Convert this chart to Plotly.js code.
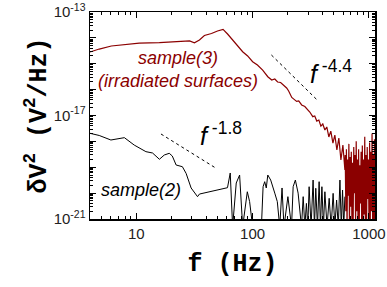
<!DOCTYPE html>
<html>
<head>
<meta charset="utf-8">
<script src="https://cdn.plot.ly/plotly-3.0.1.min.js"></script>
<style>html,body{margin:0;padding:0;background:#fff;}#chart{width:387px;height:287px;}</style>
</head>
<body>
<div id="chart"></div>
<script>
// sample(3) (irradiated surfaces) — frequency (Hz) and spectral density (V^2/Hz)
const redF = [4, 4.8, 6.1, 7.9, 10.6, 15.8, 23.5, 28.7, 31.6, 34.9, 38.5, 44.3, 49.9, 55.7, 60.9,
  67.3, 74.3, 82.1, 90.6, 100, 110, 122, 135, 146, 155, 164, 174, 185, 196, 204,
  217, 226, 239, 249, 264, 281, 292, 310, 329, 342, 356, 371, 386, 401, 418,
  434, 452, 470, 490, 509, 530, 551, 574, 597, 621,
  625, 633, 640, 648, 656, 664, 672, 680, 688, 697, 705, 714, 723, 731, 740,
  749, 758, 768, 777, 786, 796, 806, 815, 825, 835, 845, 856, 866, 877, 887,
  898, 909, 920, 931, 943, 954, 966, 977, 989, 1001, 1013, 1025, 1038, 1050, 1063,
  1076, 1089, 1102, 1115, 1125];
const redP = [2.84e-15, 3.7e-15, 4.85e-15, 5.5e-15, 6.3e-15, 6.6e-15, 7.25e-15, 7.6e-15, 6.5e-15, 8.3e-15,
  1.24e-14, 1.48e-14, 1.85e-14, 2.14e-14, 1.41e-14, 8.3e-15, 5.3e-15, 2.92e-15, 2.0e-15, 1.2e-15,
  8.9e-16, 5.7e-16, 3.15e-16, 2.35e-16, 2.57e-16, 1.97e-16, 1.88e-16, 1.51e-16, 1.16e-16, 8.85e-17,
  4.97e-17, 4.3e-17, 3.5e-17, 3.63e-17, 2.55e-17, 2.23e-17, 1.9e-17, 1.36e-17, 9.0e-18, 9.6e-18,
  6.1e-18, 6.7e-18, 3.9e-18, 4.7e-18, 2.75e-18, 3.6e-18, 1.48e-18, 2.5e-18, 8.6e-19, 1.76e-18,
  4.65e-19, 1.35e-18, 1.9e-19, 7.2e-19, 7.8e-20,
  3e-19, 2e-21, 5e-19, 5e-22, 2e-19, 8e-21, 8e-19, 5e-22, 2.5e-19, 3e-21,
  4e-19, 5e-22, 1.5e-19, 5e-22, 6e-19, 1e-20, 3e-19, 5e-22, 1e-18, 2e-21,
  2e-19, 5e-22, 5e-19, 5e-22, 1.2e-19, 4e-21, 4e-19, 5e-22, 7e-19, 5e-22,
  2e-19, 1.5e-21, 1.5e-18, 5e-22, 3e-19, 5e-22, 6e-19, 6e-21, 2e-19, 5e-22,
  9e-19, 5e-22, 4e-19, 2e-21, 2e-18, 5e-22, 3e-19, 5e-22, 1.2e-18, 5e-22];

// sample(2)
const blackF = [4, 4.8, 6.05, 7.9, 9.6, 12.1, 13.8, 15.8, 17.4, 19.2, 20.4, 22.0, 24.9, 26.8, 29.6,
  33.6, 34.9, 60.8, 64.2, 67.3, 72.3, 77.3, 82.1, 85.3, 90, 94.2, 100, 119, 123, 127,
  131, 135, 143, 155, 163, 171, 179, 186, 201, 216, 223, 233, 246, 263, 272,
  281, 290, 298, 306, 318, 331, 340, 349, 361, 373, 383, 394, 406, 418, 436,
  455, 473, 492, 509, 527, 545, 563, 578, 593, 607, 621];
const blackP = [2.05e-18, 1.69e-18, 1.13e-18, 1.39e-18, 7.2e-19, 4.0e-19, 3.55e-19, 2.03e-19, 2.97e-19, 3.46e-19,
  2.72e-19, 1.22e-19, 1.05e-19, 5.8e-20, 1.58e-20, 7.3e-21, 9.2e-21, 1.62e-20, 6.0e-20, 5e-22,
  2.46e-20, 5.0e-20, 5e-22, 1.7e-21, 1.13e-20, 4.7e-21, 5e-22, 5e-22, 1.77e-20, 2.77e-20,
  1.58e-20, 5.0e-20, 3.2e-20, 1.0e-20, 4.7e-21, 5e-22, 1.58e-20, 5e-22, 7.3e-21, 5e-22,
  1.77e-20, 3.2e-20, 1.0e-20, 5e-22, 7.3e-21, 5e-22, 4.0e-21, 5e-22, 1.77e-20, 5e-22,
  3.2e-20, 5e-22, 1.54e-20, 5e-22, 2.77e-20, 5e-22, 1.77e-20, 5e-22, 1.13e-20, 5e-22,
  6.3e-21, 5e-22, 9.8e-21, 5e-22, 5.4e-21, 5e-22, 3.2e-20, 5e-22, 1.32e-20, 5e-22, 7.3e-21];

// dotted slope guides
const guide44F = [145, 354];
const guide44P = [2.18e-15, 4.23e-17];
const guide18F = [16.3, 48.6];
const guide18P = [1.93e-18, 9.1e-20];

// tick labels
const xTickVals = [10, 100, 1000];
const xTickText = ['10', '100', '1000'];
const yTickVals = [1e-21, 1e-20, 1e-19, 1e-18, 1e-17, 1e-16, 1e-15, 1e-14, 1e-13];
const yTickText = ['10<sup>-21</sup>', '', '', '', '10<sup>-17</sup>', '', '', '', '10<sup>-13</sup>'];

function minorVals(lo, hi) {
  const v = [];
  for (let k = lo; k < hi; k++) for (let d = 2; d <= 9; d++) v.push(d * Math.pow(10, k));
  return v;
}

const DARKRED = '#8B0000';
const traces = [
  {x: blackF, y: blackP, mode: 'lines', line: {color: '#000', width: 1}, hoverinfo: 'skip'},
  {x: redF, y: redP, mode: 'lines', line: {color: DARKRED, width: 1.2}, hoverinfo: 'skip'},
  {x: guide44F, y: guide44P, mode: 'lines', line: {color: '#000', width: 1, dash: 'dot'}},
  {x: guide18F, y: guide18P, mode: 'lines', line: {color: '#000', width: 1, dash: 'dot'}}
];

const tickFont = {family: 'Liberation Sans, Arial, sans-serif', size: 15, color: '#222'};
const titleFont = {family: 'Liberation Mono, Courier New, monospace', size: 25, color: '#000', weight: 'bold'};

const layout = {
  width: 387, height: 287,
  margin: {l: 90, r: 12, t: 12, b: 68},
  paper_bgcolor: '#fff', plot_bgcolor: '#fff',
  showlegend: false,
  xaxis: {
    type: 'log', range: [Math.log10(4), Math.log10(1127)],
    tickmode: 'array', tickvals: xTickVals, ticktext: xTickText,
    ticks: 'inside', ticklen: 6, tickwidth: 1, tickcolor: '#000',
    minor: {tickmode: 'array', tickvals: minorVals(0, 4), ticks: 'inside', ticklen: 3, tickwidth: 1, tickcolor: '#000', showgrid: false},
    showline: true, linecolor: '#000', linewidth: 1.5, mirror: 'allticks',
    showgrid: false, zeroline: false, tickfont: tickFont,
    title: {text: 'f (Hz)', font: titleFont, standoff: 13}
  },
  yaxis: {
    type: 'log', range: [-21, -13],
    tickmode: 'array', tickvals: yTickVals, ticktext: yTickText,
    ticks: 'inside', ticklen: 6, tickwidth: 1, tickcolor: '#000',
    minor: {tickmode: 'array', tickvals: minorVals(-21, -13), ticks: 'inside', ticklen: 3, tickwidth: 1, tickcolor: '#000', showgrid: false},
    showline: true, linecolor: '#000', linewidth: 1.5, mirror: 'allticks',
    showgrid: false, zeroline: false, tickfont: tickFont,
    title: {text: 'δV<sup>2</sup> (V<sup>2</sup>/Hz)', font: titleFont, standoff: 0}
  },
  annotations: [
    {xref: 'x', yref: 'y', x: 1.362, y: -15.203, showarrow: false,
     text: '<i>sample(3)</i><br><i>(irradiated surfaces)</i>',
     font: {family: 'Liberation Sans, Arial, sans-serif', size: 18, color: DARKRED}},
    {xref: 'x', yref: 'y', x: 1.0405, y: -19.879, showarrow: false,
     text: '<i>sample(2)</i>',
     font: {family: 'Liberation Sans, Arial, sans-serif', size: 18, color: '#000'}},
    {xref: 'x', yref: 'y', x: 2.475, y: -15.32, xanchor: 'left', yanchor: 'middle', showarrow: false,
     text: '<i>f</i><sup> -4.4</sup>',
     font: {family: 'Liberation Sans, Arial, sans-serif', size: 25, color: '#000'}},
    {xref: 'x', yref: 'y', x: 1.53, y: -17.715, xanchor: 'left', yanchor: 'middle', showarrow: false,
     text: '<i>f</i><sup> -1.8</sup>',
     font: {family: 'Liberation Sans, Arial, sans-serif', size: 25, color: '#000'}}
  ]
};

Plotly.newPlot('chart', traces, layout, {displayModeBar: false, staticPlot: true});
</script>
</body>
</html>
